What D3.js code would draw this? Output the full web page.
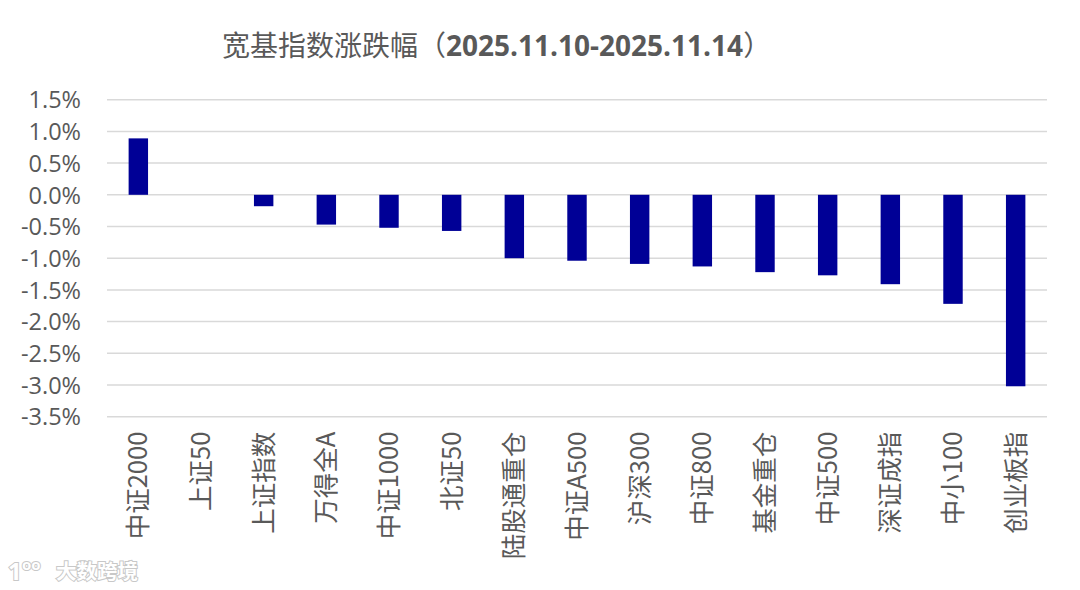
<!DOCTYPE html>
<html><head><meta charset="utf-8">
<script src="https://cdn.jsdelivr.net/npm/d3@7"></script>
<style>html,body{margin:0;padding:0;background:#fff;}svg{display:block;}</style>
</head><body>
<svg id="c" width="1080" height="590"></svg>
<script>
const categories = ["中证2000","上证50","上证指数","万得全A","中证1000","北证50","陆股通重仓","中证A500","沪深300","中证800","基金重仓","中证500","深证成指","中小100","创业板指"];
const values = [0.89, 0.0, -0.18, -0.47, -0.52, -0.57, -1.00, -1.04, -1.09, -1.13, -1.22, -1.27, -1.41, -1.72, -3.02];
const yTicks = [1.5, 1.0, 0.5, 0.0, -0.5, -1.0, -1.5, -2.0, -2.5, -3.0, -3.5];
const titleMain = "宽基指数涨跌幅（";
const titleDate = "2025.11.10-2025.11.14";
const titleEnd = "）";

const svg = d3.select("#c");
const pLeft = 107, pRight = 1047, pTop = 99.7, pBottom = 416.7;
const cjk = "'Noto Sans CJK SC', 'Open Sans', sans-serif";

const x = d3.scaleBand().domain(categories).range([pLeft, pRight]).paddingInner(0.69).paddingOuter(0.345);
const y = d3.scaleLinear().domain([-3.5, 1.5]).range([pBottom, pTop]);

// gridlines
svg.append("g").selectAll("line").data(yTicks).join("line")
  .attr("x1", pLeft).attr("x2", pRight)
  .attr("y1", d => y(d)).attr("y2", d => y(d))
  .attr("stroke", "#d9d9d9").attr("stroke-width", 1.5);

// y axis labels
const yAxis = d3.axisLeft(y).tickValues(yTicks).tickSize(0).tickPadding(0)
  .tickFormat(d => d.toFixed(1) + "%");
const ga = svg.append("g").attr("transform", `translate(81,0)`).call(yAxis);
ga.select(".domain").remove();
ga.selectAll("text").attr("font-family", "'Open Sans', sans-serif").attr("font-size", 23.5)
  .attr("fill", "#595959").attr("dy", "0.35em");

// bars
svg.append("g").selectAll("rect").data(values).join("rect")
  .attr("x", (d, i) => x(categories[i]))
  .attr("width", x.bandwidth())
  .attr("y", d => y(Math.max(0, d)))
  .attr("height", d => Math.abs(y(d) - y(0)))
  .attr("fill", "#000096");

// x labels (rotated)
const xAxis = d3.axisBottom(x).tickSize(0).tickPadding(0);
const gx = svg.append("g").attr("transform", `translate(0,${pBottom})`).call(xAxis);
gx.select(".domain").remove();
gx.selectAll("text")
  .attr("font-family", cjk).attr("font-size", 25.5).attr("fill", "#595959")
  .attr("text-anchor", "end")
  .attr("transform", "translate(0,15) rotate(-90)")
  .attr("x", 0).attr("y", 0).attr("dy", "0.35em");

// title
const t = svg.append("text").attr("x", 222).attr("y", 56)
  .attr("font-family", cjk).attr("font-size", 28).attr("fill", "#595959");
t.append("tspan").text(titleMain);
t.append("tspan").attr("font-weight", "bold").attr("font-family", "'Open Sans', sans-serif").text(titleDate);
t.append("tspan").text(titleEnd);

// watermark
const wm = svg.append("g");
wm.append("text").attr("x", 8).attr("y", 580).attr("font-family", "'Open Sans', sans-serif")
  .attr("font-size", 24).attr("font-weight", "bold").attr("fill", "#ffffff")
  .attr("stroke", "#c8c8c8").attr("stroke-width", 2).attr("paint-order", "stroke").text("1");
wm.append("text").attr("x", 22).attr("y", 570).attr("font-family", "'Open Sans', sans-serif")
  .attr("font-size", 15).attr("font-weight", "bold").attr("fill", "#ffffff")
  .attr("stroke", "#c8c8c8").attr("stroke-width", 2).attr("paint-order", "stroke").text("oo");
wm.append("text").attr("x", 56).attr("y", 579).attr("font-family", cjk)
  .attr("font-size", 20.5).attr("font-weight", "bold").attr("fill", "#ffffff")
  .attr("stroke", "#c8c8c8").attr("stroke-width", 2).attr("paint-order", "stroke").text("大数跨境");
</script>
</body></html>
